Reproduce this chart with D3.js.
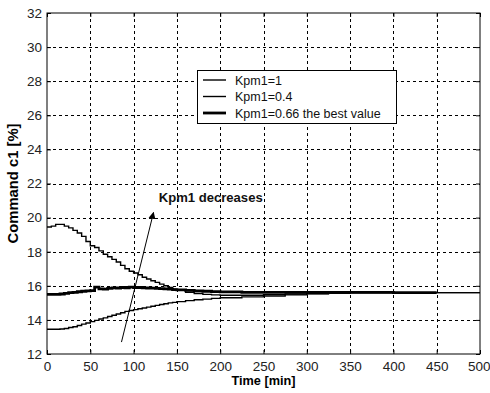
<!DOCTYPE html>
<html>
<head>
<meta charset="utf-8">
<script src="https://cdn.jsdelivr.net/npm/d3@7"></script>
<style>
  body { margin: 0; background: #fff; }
  svg { display: block; font-family: "Liberation Sans", Arial, sans-serif; }
</style>
</head>
<body>
<div id="chart"></div>
<script>
// time axis samples [min]
var times = [0, 5, 10, 15, 20, 25, 30, 35, 40, 45, 50, 55, 60, 65, 70, 75, 80, 85, 90, 95,
  100, 105, 110, 115, 120, 125, 130, 135, 140, 145, 150, 160, 170, 180, 190, 200,
  225, 250, 275, 300, 325, 350, 400, 450, 500];

// command c1 [%] for each gain
var kpm1_1 = [13.45, 13.45, 13.45, 13.47, 13.5, 13.55, 13.6, 13.67, 13.75, 13.82, 13.9, 13.97,
  14.05, 14.12, 14.2, 14.27, 14.35, 14.42, 14.5, 14.55, 14.6, 14.65, 14.7, 14.75, 14.8, 14.85,
  14.9, 14.95, 15.0, 15.03, 15.07, 15.13, 15.18, 15.22, 15.26, 15.3,
  15.35, 15.4, 15.47, 15.53, 15.57, 15.6, 15.6, 15.6, 15.6];

var kpm1_04 = [19.45, 19.5, 19.6, 19.6, 19.5, 19.4, 19.25, 19.1, 18.9, 18.6, 18.35, 18.25,
  18.05, 17.85, 17.7, 17.55, 17.4, 17.2, 17.0, 16.85, 16.75, 16.65, 16.5, 16.4, 16.3, 16.2,
  16.1, 16.0, 15.9, 15.8, 15.75, 15.62, 15.55, 15.5, 15.47, 15.45,
  15.45, 15.48, 15.52, 15.55, 15.58, 15.6, 15.6, 15.6, 15.6];

var kpm1_066 = [15.5, 15.5, 15.5, 15.52, 15.55, 15.6, 15.62, 15.65, 15.68, 15.7, 15.72, 15.92,
  15.82, 15.8, 15.85, 15.88, 15.87, 15.9, 15.88, 15.92, 15.9, 15.9, 15.88, 15.87, 15.86, 15.85,
  15.83, 15.82, 15.8, 15.78, 15.76, 15.73, 15.7, 15.68, 15.66, 15.64,
  15.62, 15.62, 15.62, 15.62, 15.62, 15.62, 15.6, 15.6, null];

var xTicks = [0, 50, 100, 150, 200, 250, 300, 350, 400, 450, 500];
var yTicks = [12, 14, 16, 18, 20, 22, 24, 26, 28, 30, 32];

var legendLabels = ["Kpm1=1", "Kpm1=0.4", "Kpm1=0.66 the best value"];

// annotation arrow, in data units: [time, value]
var arrowFrom = [86, 12.7];
var arrowTo = [123, 20.3];
var noteAt = [129, 20.9];
var noteText = "Kpm1 decreases";

var width = 490, height = 393;
var margin = { top: 13, right: 10, bottom: 39, left: 47 };

var svg = d3.select("#chart").append("svg")
  .attr("width", width)
  .attr("height", height);

var x = d3.scaleLinear().domain([0, 500]).range([margin.left, width - margin.right]);
var y = d3.scaleLinear().domain([12, 32]).range([height - margin.bottom, margin.top]);

var defs = svg.append("defs");
defs.append("marker")
  .attr("id", "head")
  .attr("viewBox", "0 0 10 10")
  .attr("refX", 9)
  .attr("refY", 5)
  .attr("markerWidth", 7)
  .attr("markerHeight", 8)
  .attr("markerUnits", "userSpaceOnUse")
  .attr("orient", "auto")
  .append("path")
  .attr("d", "M0,0L10,5L0,10z")
  .attr("fill", "#000");

// grid
var grid = svg.append("g").attr("stroke", "#000").attr("stroke-width", 1)
  .attr("stroke-dasharray", "3,3").attr("shape-rendering", "crispEdges");
grid.selectAll(".gx").data(xTicks.slice(1, -1)).enter().append("line")
  .attr("x1", d => Math.round(x(d)) + 0.5).attr("x2", d => Math.round(x(d)) + 0.5)
  .attr("y1", y(32)).attr("y2", y(12));
grid.selectAll(".gy").data(yTicks.slice(1, -1)).enter().append("line")
  .attr("y1", d => Math.round(y(d)) + 0.5).attr("y2", d => Math.round(y(d)) + 0.5)
  .attr("x1", x(0)).attr("x2", x(500));

// axes with inward ticks
var xAxis = svg.append("g")
  .attr("transform", "translate(0," + y(12) + ")")
  .call(d3.axisBottom(x).tickValues(xTicks).tickSize(-4).tickPadding(7));
svg.append("g")
  .attr("transform", "translate(" + x(0) + ",0)")
  .call(d3.axisLeft(y).tickValues(yTicks).tickSize(-4).tickPadding(5));
svg.append("g")
  .attr("transform", "translate(0," + y(32) + ")")
  .call(d3.axisTop(x).tickValues(xTicks).tickSize(-4).tickFormat(""));
svg.append("g")
  .attr("transform", "translate(" + x(500) + ",0)")
  .call(d3.axisRight(y).tickValues(yTicks).tickSize(-4).tickFormat(""));

svg.selectAll(".domain").remove();
svg.selectAll(".tick text")
  .attr("font-size", 13.5)
  .attr("fill", "#222")
  .attr("font-family", "'Liberation Sans', Arial, sans-serif");

// last label sits at the window edge
xAxis.selectAll(".tick text").filter(d => d === 500)
  .attr("text-anchor", "end").attr("dx", 10);

// frame
svg.append("rect")
  .attr("x", x(0)).attr("y", y(32))
  .attr("width", x(500) - x(0)).attr("height", y(12) - y(32))
  .attr("fill", "none").attr("stroke", "#000").attr("stroke-width", 1);

// series
var line = d3.line()
  .defined(d => d[1] != null)
  .x(d => x(d[0]))
  .y(d => y(d[1]))
  .curve(d3.curveStepAfter);

var series = [
  { vals: kpm1_1, w: 1.4 },
  { vals: kpm1_04, w: 1.4 },
  { vals: kpm1_066, w: 2.8 }
];

svg.append("g").selectAll("path").data(series).enter().append("path")
  .attr("d", s => line(times.map((t, i) => [t, s.vals[i]])))
  .attr("fill", "none")
  .attr("stroke", "#000")
  .attr("stroke-width", s => s.w);

// annotation
svg.append("line")
  .attr("x1", x(arrowFrom[0])).attr("y1", y(arrowFrom[1]))
  .attr("x2", x(arrowTo[0])).attr("y2", y(arrowTo[1]))
  .attr("stroke", "#000").attr("stroke-width", 1)
  .attr("marker-end", "url(#head)");
svg.append("text")
  .attr("x", x(noteAt[0])).attr("y", y(noteAt[1]))
  .attr("font-size", 13).attr("font-weight", 700)
  .attr("fill", "#111")
  .attr("textLength", 104).attr("lengthAdjust", "spacingAndGlyphs")
  .text(noteText);

// legend
var legend = svg.append("g").attr("transform", "translate(197,70)");
legend.append("rect")
  .attr("x", 0.5).attr("y", 0.5).attr("width", 199).attr("height", 53)
  .attr("fill", "#fff").attr("stroke", "#000");
var item = legend.selectAll(".item").data(legendLabels).enter().append("g")
  .attr("transform", (d, i) => "translate(0," + (10 + i * 16.5) + ")");
item.append("line")
  .attr("x1", 6).attr("x2", 29).attr("y1", 0).attr("y2", 0)
  .attr("stroke", "#000").attr("stroke-width", (d, i) => series[i].w);
item.append("text")
  .attr("x", 38).attr("y", 4.5)
  .attr("font-size", 12.5).attr("fill", "#111")
  .text(d => d);

// axis titles
svg.append("text")
  .attr("x", (x(0) + x(500)) / 2).attr("y", 385)
  .attr("text-anchor", "middle").attr("font-size", 13.5).attr("font-weight", 700)
  .attr("textLength", 64).attr("lengthAdjust", "spacingAndGlyphs")
  .text("Time [min]");
svg.append("text")
  .attr("transform", "translate(18," + (y(12) + y(32)) / 2 + ") rotate(-90)")
  .attr("text-anchor", "middle").attr("font-size", 14).attr("font-weight", 700)
  .attr("textLength", 120).attr("lengthAdjust", "spacingAndGlyphs")
  .text("Command c1 [%]");
</script>
</body>
</html>
